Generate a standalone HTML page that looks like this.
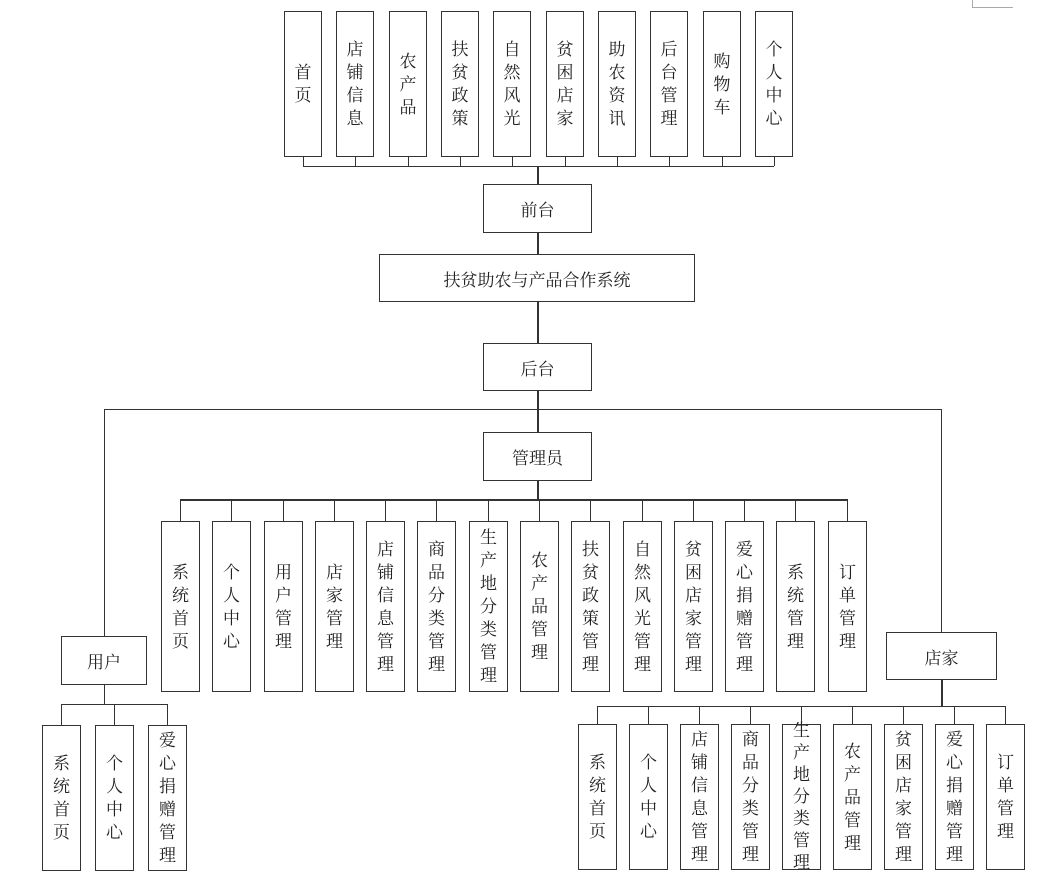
<!DOCTYPE html>
<html><head><meta charset="utf-8"><style>
body{margin:0;width:1064px;height:893px;background:#fff;position:relative;overflow:hidden;font-family:"Liberation Serif","Noto Serif CJK SC","Noto Sans CJK SC",serif;color:#222}
.b{position:absolute;box-sizing:border-box;border:1.3px solid #333;background:#fff;display:flex;align-items:center;justify-content:center;font-size:17px;text-align:center}
.v{line-height:23px;width:18px;word-break:break-all}
.h{position:absolute;height:0;border-top:1.3px solid #333}
.l{position:absolute;width:0;border-left:1.3px solid #333}
</style></head><body>
<!-- corner -->
<div style="position:absolute;left:972px;top:0;width:40px;height:7px;border-left:1px solid #aaa;border-bottom:1px solid #aaa"></div>

<!-- top boxes -->
<div class="b" style="left:284px;top:11px;width:38px;height:146px"><div class="v">首页</div></div>
<div class="b" style="left:336px;top:11px;width:38px;height:146px"><div class="v">店铺信息</div></div>
<div class="b" style="left:389px;top:11px;width:38px;height:146px"><div class="v">农产品</div></div>
<div class="b" style="left:441px;top:11px;width:38px;height:146px"><div class="v">扶贫政策</div></div>
<div class="b" style="left:493px;top:11px;width:38px;height:146px"><div class="v">自然风光</div></div>
<div class="b" style="left:546px;top:11px;width:38px;height:146px"><div class="v">贫困店家</div></div>
<div class="b" style="left:598px;top:11px;width:38px;height:146px"><div class="v">助农资讯</div></div>
<div class="b" style="left:650px;top:11px;width:38px;height:146px"><div class="v">后台管理</div></div>
<div class="b" style="left:703px;top:11px;width:38px;height:146px"><div class="v">购物车</div></div>
<div class="b" style="left:755px;top:11px;width:38px;height:146px"><div class="v">个人中心</div></div>
<div class="l" style="left:303px;top:157px;height:9px"></div>
<div class="l" style="left:355px;top:157px;height:9px"></div>
<div class="l" style="left:408px;top:157px;height:9px"></div>
<div class="l" style="left:460px;top:157px;height:9px"></div>
<div class="l" style="left:512px;top:157px;height:9px"></div>
<div class="l" style="left:565px;top:157px;height:9px"></div>
<div class="l" style="left:617px;top:157px;height:9px"></div>
<div class="l" style="left:669px;top:157px;height:9px"></div>
<div class="l" style="left:722px;top:157px;height:9px"></div>
<div class="l" style="left:774px;top:157px;height:9px"></div>
<div class="h" style="left:303px;top:166px;width:471px"></div>

<!-- spine -->
<div class="l" style="left:537px;top:166px;height:243px;border-left-width:2px"></div>
<div class="b" style="left:483px;top:184px;width:109px;height:49px">前台</div>
<div class="b" style="left:379px;top:254px;width:316px;height:48px">扶贫助农与产品合作系统</div>
<div class="b" style="left:483px;top:343px;width:109px;height:48px">后台</div>

<div class="h" style="left:104px;top:409px;width:837px"></div>
<div class="l" style="left:537px;top:409px;height:90px;border-left-width:2px"></div>
<div class="b" style="left:483px;top:432px;width:109px;height:49px">管理员</div>

<!-- admin -->
<div class="h" style="left:180px;top:499px;width:667px;border-top-width:2px"></div>
<div class="b" style="left:161px;top:521px;width:39px;height:171px"><div class="v">系统首页</div></div>
<div class="b" style="left:212px;top:521px;width:39px;height:171px"><div class="v">个人中心</div></div>
<div class="b" style="left:264px;top:521px;width:39px;height:171px"><div class="v">用户管理</div></div>
<div class="b" style="left:315px;top:521px;width:39px;height:171px"><div class="v">店家管理</div></div>
<div class="b" style="left:366px;top:521px;width:39px;height:171px"><div class="v">店铺信息管理</div></div>
<div class="b" style="left:417px;top:521px;width:39px;height:171px"><div class="v">商品分类管理</div></div>
<div class="b" style="left:469px;top:521px;width:39px;height:171px"><div class="v">生产地分类管理</div></div>
<div class="b" style="left:520px;top:521px;width:39px;height:171px"><div class="v">农产品管理</div></div>
<div class="b" style="left:571px;top:521px;width:39px;height:171px"><div class="v">扶贫政策管理</div></div>
<div class="b" style="left:623px;top:521px;width:39px;height:171px"><div class="v">自然风光管理</div></div>
<div class="b" style="left:674px;top:521px;width:39px;height:171px"><div class="v">贫困店家管理</div></div>
<div class="b" style="left:725px;top:521px;width:39px;height:171px"><div class="v">爱心捐赠管理</div></div>
<div class="b" style="left:776px;top:521px;width:39px;height:171px"><div class="v">系统管理</div></div>
<div class="b" style="left:828px;top:521px;width:39px;height:171px"><div class="v">订单管理</div></div>
<div class="l" style="left:180px;top:499px;height:22px"></div>
<div class="l" style="left:231px;top:499px;height:22px"></div>
<div class="l" style="left:283px;top:499px;height:22px"></div>
<div class="l" style="left:334px;top:499px;height:22px"></div>
<div class="l" style="left:385px;top:499px;height:22px"></div>
<div class="l" style="left:436px;top:499px;height:22px"></div>
<div class="l" style="left:488px;top:499px;height:22px"></div>
<div class="l" style="left:539px;top:499px;height:22px"></div>
<div class="l" style="left:590px;top:499px;height:22px"></div>
<div class="l" style="left:642px;top:499px;height:22px"></div>
<div class="l" style="left:693px;top:499px;height:22px"></div>
<div class="l" style="left:744px;top:499px;height:22px"></div>
<div class="l" style="left:795px;top:499px;height:22px"></div>
<div class="l" style="left:847px;top:499px;height:22px"></div>

<!-- user -->
<div class="l" style="left:104px;top:409px;height:227px"></div>
<div class="b" style="left:61px;top:636px;width:86px;height:49px">用户</div>
<div class="l" style="left:104px;top:685px;height:19px"></div>
<div class="h" style="left:61px;top:704px;width:106px"></div>
<div class="l" style="left:61px;top:704px;height:21px"></div>
<div class="l" style="left:114px;top:704px;height:21px"></div>
<div class="l" style="left:167px;top:704px;height:21px"></div>
<div class="b" style="left:42px;top:725px;width:39px;height:146px"><div class="v">系统首页</div></div>
<div class="b" style="left:95px;top:725px;width:39px;height:146px"><div class="v">个人中心</div></div>
<div class="b" style="left:148px;top:725px;width:39px;height:146px"><div class="v">爱心捐赠管理</div></div>

<!-- store -->
<div class="l" style="left:941px;top:409px;height:223px"></div>
<div class="b" style="left:886px;top:632px;width:111px;height:48px">店家</div>
<div class="l" style="left:941px;top:680px;height:26px;border-left-width:2px"></div>
<div class="h" style="left:597px;top:706px;width:408px"></div>
<div class="l" style="left:597px;top:706px;height:18px"></div>
<div class="l" style="left:648px;top:706px;height:18px"></div>
<div class="l" style="left:699px;top:706px;height:18px"></div>
<div class="l" style="left:750px;top:706px;height:18px"></div>
<div class="l" style="left:801px;top:706px;height:18px"></div>
<div class="l" style="left:852px;top:706px;height:18px"></div>
<div class="l" style="left:903px;top:706px;height:18px"></div>
<div class="l" style="left:954px;top:706px;height:18px"></div>
<div class="l" style="left:1005px;top:706px;height:18px"></div>
<div class="b" style="left:578px;top:724px;width:39px;height:146px"><div class="v">系统首页</div></div>
<div class="b" style="left:629px;top:724px;width:39px;height:146px"><div class="v">个人中心</div></div>
<div class="b" style="left:680px;top:724px;width:39px;height:146px"><div class="v">店铺信息管理</div></div>
<div class="b" style="left:731px;top:724px;width:39px;height:146px"><div class="v">商品分类管理</div></div>
<div class="b" style="left:782px;top:724px;width:39px;height:146px;overflow:visible"><div class="v" style="line-height:22px">生产地分类管理</div></div>
<div class="b" style="left:833px;top:724px;width:39px;height:146px"><div class="v">农产品管理</div></div>
<div class="b" style="left:884px;top:724px;width:39px;height:146px"><div class="v">贫困店家管理</div></div>
<div class="b" style="left:935px;top:724px;width:39px;height:146px"><div class="v">爱心捐赠管理</div></div>
<div class="b" style="left:986px;top:724px;width:39px;height:146px"><div class="v">订单管理</div></div>
</body></html>
